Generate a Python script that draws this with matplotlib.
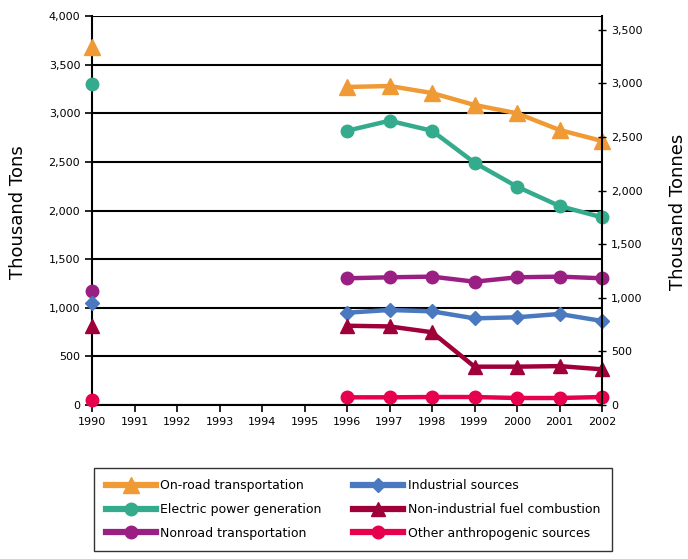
import numpy as np
import matplotlib.pyplot as plt
from matplotlib.ticker import FuncFormatter, MultipleLocator

years = list(range(1990, 2003))
nan = np.nan

# Thousand tons (left axis); 1991-1995 not reported
on_road = [3680, nan, nan, nan, nan, nan, 3270, 3280, 3208, 3085, 3000, 2828, 2715]
electric = [3300, nan, nan, nan, nan, nan, 2820, 2923, 2820, 2492, 2245, 2046, 1930]
nonroad = [1175, nan, nan, nan, nan, nan, 1303, 1313, 1320, 1268, 1313, 1320, 1303]
industrial = [1052, nan, nan, nan, nan, nan, 949, 977, 963, 891, 902, 936, 864]
non_ind_fuel = [812, nan, nan, nan, nan, nan, 815, 808, 748, 394, 394, 400, 367]
other = [51, nan, nan, nan, nan, nan, 79, 79, 82, 82, 72, 72, 82]

series = [
    ("On-road transportation", on_road, "#F09A35", "^", 11.5),
    ("Electric power generation", electric, "#34AB8C", "o", 9),
    ("Nonroad transportation", nonroad, "#9A1F82", "o", 9),
    ("Industrial sources", industrial, "#4A79C0", "D", 7),
    ("Non-industrial fuel combustion", non_ind_fuel, "#A0003A", "^", 10),
    ("Other anthropogenic sources", other, "#E6004E", "o", 9),
]

TON_TO_TONNE = 0.90718

fig = plt.figure(figsize=(6.88, 5.59), dpi=100)
ax = fig.add_axes([92 / 688, 1 - 405 / 559, 510 / 688, 389 / 559])

handles = []
for name, vals, color, marker, ms in series:
    h, = ax.plot(years, vals, color=color, marker=marker, markersize=ms,
                 linewidth=3.2, label=name, clip_on=False, zorder=5)
    handles.append(h)

ax.set_xlim(1990, 2002)
ax.set_ylim(0, 4000)
ax.set_xticks(years)
ax.yaxis.set_major_locator(MultipleLocator(500))
ax.yaxis.set_major_formatter(FuncFormatter(lambda v, p: f"{int(v):,}"))
ax.grid(axis="y", color="black", linewidth=1.5)
ax.set_axisbelow(True)
for s in ["top", "right"]:
    ax.spines[s].set_visible(False)
for s in ["left", "bottom"]:
    ax.spines[s].set_linewidth(1.5)
ax.tick_params(labelsize=8, length=5, width=1.2)

ax2 = ax.twinx()
ax2.set_ylim(0, 4000 * TON_TO_TONNE)
ax2.yaxis.set_major_locator(MultipleLocator(500))
ax2.yaxis.set_major_formatter(FuncFormatter(lambda v, p: f"{int(v):,}"))
ax2.tick_params(labelsize=8, direction="inout", length=6, width=1.0)
for s in ["top", "left", "bottom"]:
    ax2.spines[s].set_visible(False)
ax2.spines["right"].set_linewidth(1.5)

# axis titles placed by hand, like the original
mid_y = 1 - 212 / 559
fig.text(18 / 688, mid_y, "Thousand Tons", rotation=90, fontsize=13,
         ha="center", va="center")
fig.text(678 / 688, mid_y, "Thousand Tonnes", rotation=90, fontsize=13,
         ha="center", va="center")

leg = fig.legend(handles, [h.get_label() for h in handles], ncol=2,
                 loc="lower left", bbox_to_anchor=(88 / 688, 2 / 559, 530 / 688, 88 / 559),
                 mode="expand", fontsize=9, frameon=True, fancybox=False,
                 edgecolor="black", handlelength=4.0, handletextpad=0.4,
                 borderpad=0.9, labelspacing=0.85, columnspacing=1.5)
leg.get_frame().set_linewidth(1.0)
for lh in leg.legend_handles:
    lh.set_linewidth(4.5)

fig.savefig("out.png", dpi=100)
